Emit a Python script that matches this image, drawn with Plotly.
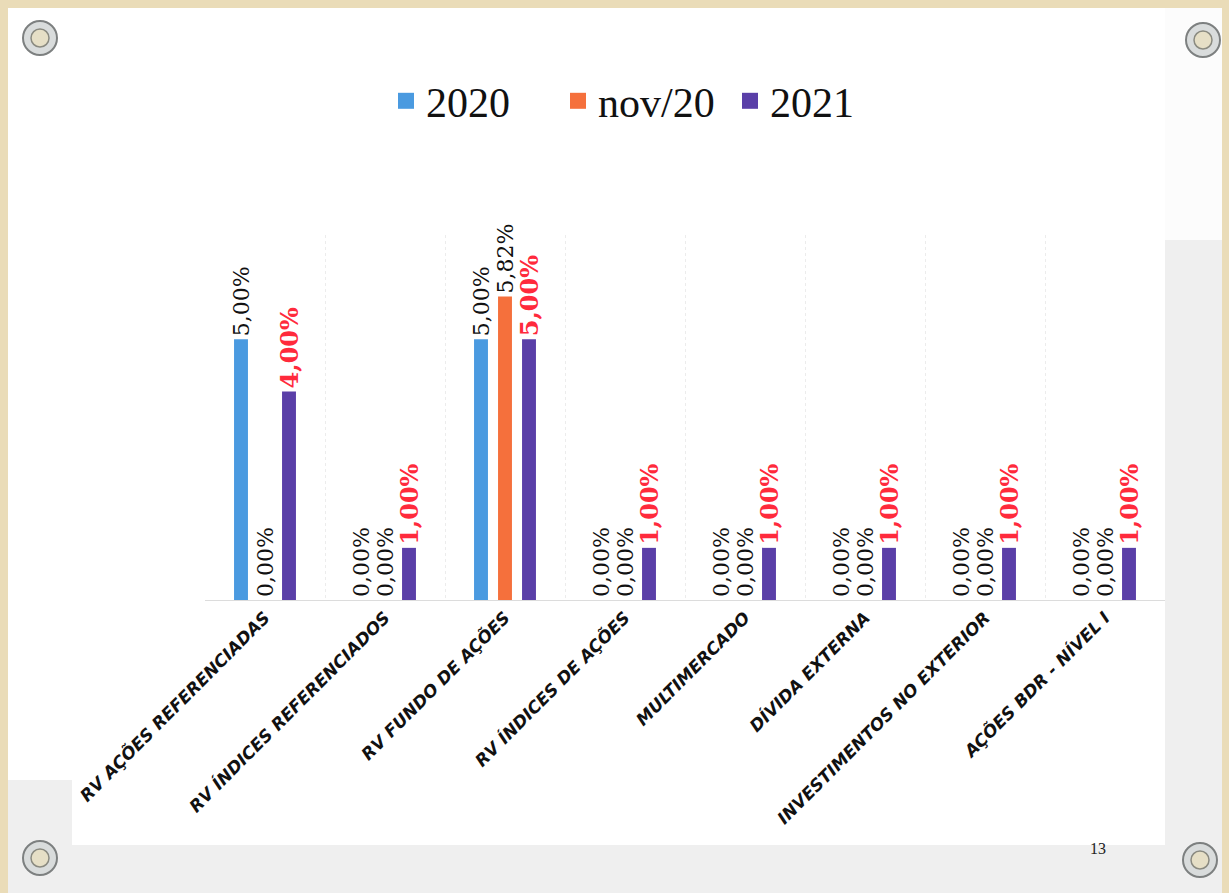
import plotly.graph_objects as go

categories = [
    "RV AÇÕES REFERENCIADAS",
    "RV ÍNDICES REFERENCIADOS",
    "RV FUNDO DE AÇÕES",
    "RV ÍNDICES DE AÇÕES",
    "MULTIMERCADO",
    "DÍVIDA EXTERNA",
    "INVESTIMENTOS NO EXTERIOR",
    "AÇÕES BDR - NÍVEL I",
]
series_names = ["2020", "nov/20", "2021"]
values_2020 = [5.00, 0.00, 5.00, 0.00, 0.00, 0.00, 0.00, 0.00]
values_nov20 = [0.00, 0.00, 5.82, 0.00, 0.00, 0.00, 0.00, 0.00]
values_2021 = [4.00, 1.00, 5.00, 1.00, 1.00, 1.00, 1.00, 1.00]
series_values = [values_2020, values_nov20, values_2021]
colors = ["#4a9ae0", "#f5703c", "#5a3fa8"]


def fmt(v):
    return f"{v:.2f}".replace(".", ",") + "%"


W, H = 1229, 893

fig = go.Figure()
for i, (name, vals, col) in enumerate(zip(series_names, series_values, colors)):
    is_2021 = i == 2
    fig.add_trace(go.Bar(
        x=categories, y=vals, name=name,
        marker=dict(color=col, line=dict(width=0)),
        text=[fmt(v) for v in vals],
        textposition="outside",
        textangle=-90,
        constraintext="none",
        cliponaxis=False,
        textfont=dict(
            family="DejaVu Serif, serif",
            size=24 if is_2021 else 22,
            color="#ff2a3c" if is_2021 else "#111111",
            weight="bold" if is_2021 else "normal",
        ),
        showlegend=False,
    ))
    # legend proxies with larger square symbols
    fig.add_trace(go.Scatter(
        x=[None], y=[None], mode="markers", name=name,
        marker=dict(symbol="square", size=20, color=col),
        showlegend=True, hoverinfo="skip",
    ))

# background: beige border, light paper, white slide
shapes = [
    dict(type="rect", xref="paper", yref="paper", x0=-1, x1=2, y0=-1, y1=2,
         fillcolor="#eadcb8", line=dict(width=0), layer="below"),
    dict(type="rect", xref="paper", yref="paper",
         x0=8 / W, x1=1222 / W, y0=0.0, y1=1 - 8 / H,
         fillcolor="#efefef", line=dict(width=0), layer="below"),
    dict(type="rect", xref="paper", yref="paper",
         x0=8 / W, x1=1222 / W, y0=1 - 240 / H, y1=1 - 8 / H,
         fillcolor="#fcfcfc", line=dict(width=0), layer="below"),
    dict(type="rect", xref="paper", yref="paper",
         x0=72 / W, x1=1165 / W, y0=1 - 845 / H, y1=1 - 8 / H,
         fillcolor="#ffffff", line=dict(width=0), layer="below"),
    dict(type="rect", xref="paper", yref="paper",
         x0=8 / W, x1=1165 / W, y0=1 - 780 / H, y1=1 - 8 / H,
         fillcolor="#ffffff", line=dict(width=0), layer="below"),
]
for cx, cy in [(40, 38), (1203, 40), (40, 858), (1200, 860)]:
    r = 17
    shapes.append(dict(type="circle", xref="paper", yref="paper",
                       x0=(cx - r) / W, x1=(cx + r) / W,
                       y0=1 - (cy + r) / H, y1=1 - (cy - r) / H,
                       fillcolor="#d9dcdc", line=dict(color="#7d8080", width=2),
                       layer="below"))
    r2 = 9
    shapes.append(dict(type="circle", xref="paper", yref="paper",
                       x0=(cx - r2) / W, x1=(cx + r2) / W,
                       y0=1 - (cy + r2) / H, y1=1 - (cy - r2) / H,
                       fillcolor="#e6dfc6", line=dict(color="#8a8a80", width=1.5),
                       layer="below"))

fig.update_layout(
    width=W, height=H,
    margin=dict(l=0, r=0, t=0, b=0, autoexpand=False),
    paper_bgcolor="#ffffff",
    plot_bgcolor="rgba(0,0,0,0)",
    barmode="group",
    bargap=0.4,
    bargroupgap=0.42,
    shapes=shapes,
    legend=dict(
        orientation="h", x=386 / W, xanchor="left", y=1 - 101 / H, yanchor="middle",
        font=dict(family="Liberation Serif, DejaVu Serif, serif", size=42, color="#111111"),
        bgcolor="rgba(0,0,0,0)", itemsizing="trace", itemwidth=30,
        entrywidth=127, entrywidthmode="pixels",
    ),
    xaxis=dict(
        domain=[205 / W, 1165 / W],
        automargin=False,
        showgrid=True, tickson="boundaries",
        gridcolor="#ececec", gridwidth=1, griddash="dot",
        showline=True, linecolor="#dcdcdc", linewidth=1,
        ticks="", tickangle=-45,
        tickfont=dict(family="DejaVu Sans, sans-serif", size=17, color="#111111",
                      weight="bold", style="italic"),
        zeroline=False,
    ),
    yaxis=dict(
        domain=[1 - 600 / H, 1 - 235 / H],
        range=[0, 7],
        automargin=False,
        showgrid=False, showticklabels=False, zeroline=False, ticks="",
    ),
    annotations=[
        dict(text="13", xref="paper", yref="paper", x=1098 / W, y=1 - 848 / H,
             showarrow=False, font=dict(family="Liberation Serif, serif", size=16, color="#222"),
             xanchor="center", yanchor="middle"),
    ],
)

fig.write_html(
    "out.html",
    config={"displayModeBar": False},
    post_script="document.body.style.margin='0';document.body.style.background='#eadcb8';",
)
